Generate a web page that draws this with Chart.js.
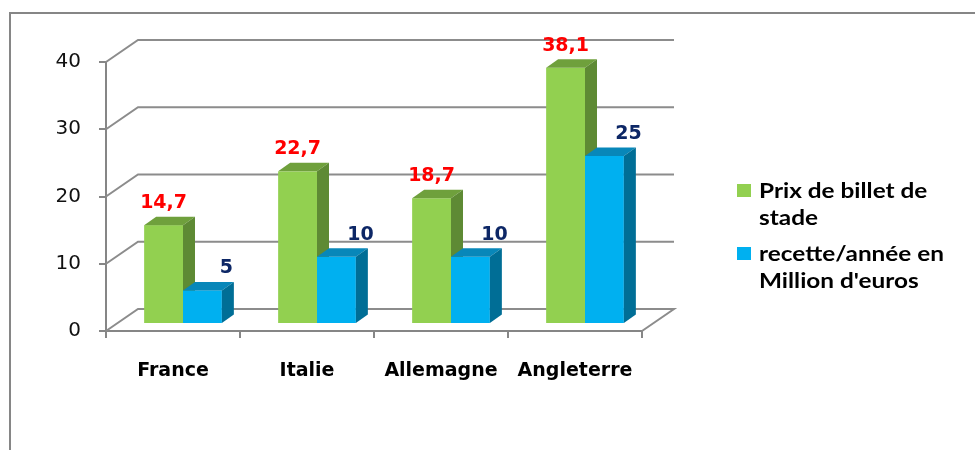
<!DOCTYPE html>
<html>
<head>
<meta charset="utf-8">
<script src="https://cdn.jsdelivr.net/npm/chart.js@4.4.1/dist/chart.umd.min.js"></script>
<style>
  html, body { margin: 0; padding: 0; background: #fff; }
  #wrap { width: 975px; height: 450px; }
</style>
</head>
<body>
<div id="wrap"><canvas id="myChart" width="975" height="450"></canvas></div>
<script>
// donnees
var pays = ['France', 'Italie', 'Allemagne', 'Angleterre']
var prixBillet = [14.7, 22.7, 18.7, 38.1]
var recette = [5, 10, 10, 25]
var nomsSeries = [['Prix de billet de', 'stade'], ["recette/année en", "Million d'euros"]]
var ticksY = [0, 10, 20, 30, 40]

var couleurs = [
    { face: '#92D050', dessus: '#6FA03C', cote: '#5E8A34', texte: '#FF0000' },
    { face: '#00B0F0', dessus: '#0887B9', cote: '#006E96', texte: '#0D2766' }
]

var profondeur = { x: 32, y: -22 }   // mur du fond
var decalBarre = { x: 10, y: -7 }    // face avant des barres
var coteBarre = { x: 12, y: -8.5 }   // epaisseur des barres

function virgule(v){
    return String(v).replace('.', ',')
}

var cadre3d = {
    id: 'cadre3d',
    beforeDraw(chart){
        var ctx = chart.ctx
        ctx.save()
        ctx.strokeStyle = '#868686'
        ctx.lineWidth = 2
        ctx.beginPath()
        ctx.moveTo(10, 450)
        ctx.lineTo(10, 13)
        ctx.lineTo(975, 13)
        ctx.stroke()
        ctx.restore()
    },
    beforeDatasetsDraw(chart){
        var ctx = chart.ctx
        var ys = chart.scales.y
        var area = chart.chartArea
        ctx.save()
        ctx.strokeStyle = '#8C8C8C'
        ctx.lineWidth = 2
        ticksY.forEach(v => {
            var y = ys.getPixelForValue(v)
            ctx.beginPath()
            ctx.moveTo(area.left, y)
            ctx.lineTo(area.left + profondeur.x, y + profondeur.y)
            ctx.lineTo(area.right + profondeur.x, y + profondeur.y)
            if (v == 0) {
                ctx.lineTo(area.right, y)
            }
            ctx.stroke()
        })

        // barres en 3D
        var nb = chart.data.labels.length
        for (var k = 0; k < nb; k++) {
            chart.data.datasets.forEach((ds, i) => {
                var el = chart.getDatasetMeta(i).data[k]
                var c = couleurs[i]
                var g = el.x - el.width / 2 + decalBarre.x
                var d = g + el.width
                var h = el.y + decalBarre.y
                var b = el.base + decalBarre.y
                ctx.fillStyle = c.face
                ctx.fillRect(g, h, el.width, b - h)
                ctx.fillStyle = c.dessus
                ctx.beginPath()
                ctx.moveTo(g, h)
                ctx.lineTo(g + coteBarre.x, h + coteBarre.y)
                ctx.lineTo(d + coteBarre.x, h + coteBarre.y)
                ctx.lineTo(d, h)
                ctx.closePath()
                ctx.fill()
                ctx.fillStyle = c.cote
                ctx.beginPath()
                ctx.moveTo(d, h)
                ctx.lineTo(d + coteBarre.x, h + coteBarre.y)
                ctx.lineTo(d + coteBarre.x, b + coteBarre.y)
                ctx.lineTo(d, b)
                ctx.closePath()
                ctx.fill()
            })
        }

        // etiquettes de valeurs
        ctx.font = 'bold 19px "DejaVu Sans"'
        ctx.textAlign = 'center'
        ctx.textBaseline = 'middle'
        for (var k = 0; k < nb; k++) {
            chart.data.datasets.forEach((ds, i) => {
                var el = chart.getDatasetMeta(i).data[k]
                var cx = el.x + decalBarre.x + (i == 1 ? 24 : 0)
                ctx.fillStyle = couleurs[i].texte
                ctx.fillText(virgule(ds.data[k]), cx, el.y + decalBarre.y - 22)
            })
        }
        ctx.restore()
        return false
    },
    afterDraw(chart){
        // legende dessinee a la main (texte sur deux lignes)
        var ctx = chart.ctx
        ctx.save()
        ctx.textAlign = 'left'
        ctx.textBaseline = 'alphabetic'
        var lignes = [198, 261]
        nomsSeries.forEach((nom, i) => {
            ctx.fillStyle = couleurs[i].face
            ctx.fillRect(737, lignes[i] - 14, 14, 13)
            ctx.fillStyle = '#000'
            nom.forEach((t, j) => {
                ctx.save()
                ctx.translate(759, lignes[i] + j * 27)
                ctx.scale(1.16, 1)
                ctx.font = 'bold 21px Lato'
                ctx.fillText(t, 0, 0)
                ctx.restore()
            })
        })
        ctx.restore()
    }
}

new Chart(document.getElementById('myChart'), {
    type: 'bar',
    data: {
        labels: pays,
        datasets: [{
            label: nomsSeries[0].join(' '),
            data: prixBillet,
            backgroundColor: couleurs[0].face
        }, {
            label: nomsSeries[1].join(' '),
            data: recette,
            backgroundColor: couleurs[1].face
        }]
    },
    options: {
        responsive: false,
        animation: false,
        devicePixelRatio: 1,
        categoryPercentage: 0.58,
        barPercentage: 1,
        layout: { padding: { left: 0, top: 62, right: 333, bottom: 0 } },
        plugins: {
            legend: { display: false },
            tooltip: { enabled: false }
        },
        scales: {
            x: {
                afterFit: s => { s.height = 119 },
                border: { color: '#868686', width: 2 },
                grid: { drawOnChartArea: false, drawTicks: true, tickLength: 7, color: '#868686', lineWidth: 2, offset: true },
                ticks: { color: '#000', padding: 22, font: { family: 'DejaVu Sans', weight: 'bold', size: 19 } }
            },
            y: {
                min: 0,
                max: 40,
                afterFit: s => { s.width = 106 },
                border: { color: '#868686', width: 2 },
                grid: { drawOnChartArea: false, drawTicks: true, tickLength: 7, color: '#868686', lineWidth: 2 },
                ticks: { stepSize: 10, color: '#111', padding: 18, font: { family: 'DejaVu Sans', size: 20 } }
            }
        }
    },
    plugins: [cadre3d]
})
</script>
</body>
</html>
